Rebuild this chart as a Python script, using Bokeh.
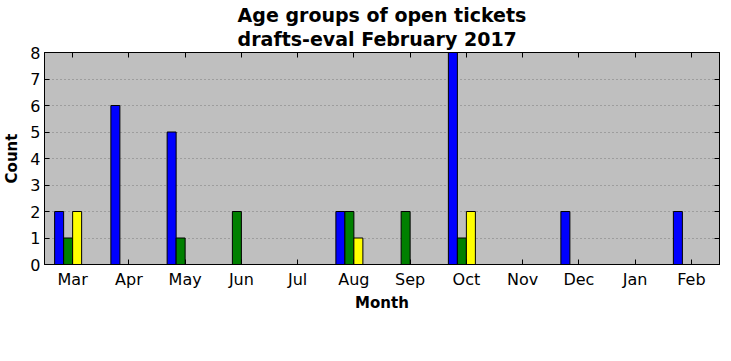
from bokeh.plotting import figure
from bokeh.models import (FactorRange, Range1d, LinearAxis, CategoricalAxis, Legend,
                          LegendItem, FixedTicker, ColumnDataSource, CustomJSTickFormatter)
from bokeh.transform import dodge
from bokeh.embed import file_html
from bokeh.resources import INLINE

months = ["Mar", "Apr", "May", "Jun", "Jul", "Aug", "Sep", "Oct", "Nov", "Dec", "Jan", "Feb"]
age_groups = ["0-7", "8-14", "15-30", "31+"]
counts_0_7 = [2, 6, 5, 0, 0, 2, 0, 8, 0, 2, 0, 2]
counts_8_14 = [1, 0, 1, 2, 0, 2, 2, 1, 0, 0, 0, 0]
counts_15_30 = [2, 0, 0, 0, 0, 1, 0, 2, 0, 0, 0, 0]
counts_31_plus = [0, 0, 0, 0, 0, 0, 0, 0, 0, 0, 0, 0]
y_ticks = [0, 1, 2, 3, 4, 5, 6, 7, 8]

colors = ["#0000ff", "#008000", "#ffff00", "#ff0000"]
offsets = [-0.24, -0.08, 0.08, 0.24]
bar_width = 0.16
FONT = "DejaVu Sans"

source = ColumnDataSource(data=dict(month=months, g0=counts_0_7, g1=counts_8_14,
                                    g2=counts_15_30, g3=counts_31_plus))

p = figure(x_range=FactorRange(*months, range_padding=0), y_range=Range1d(0, 8),
           frame_width=675, frame_height=212, output_backend="svg", toolbar_location=None,
           min_border_left=38, min_border_right=2, min_border_top=0, min_border_bottom=0)

p.title.text = "Age groups of open tickets\ndrafts-eval February 2017"
p.title.text_font = FONT
p.title.text_font_size = "19px"
p.title.text_font_style = "bold"
p.title.text_color = "black"
p.title.align = "center"
p.title.text_line_height = 1.1
p.title.standoff = 4

p.background_fill_color = "#bfbfbf"
p.border_fill_color = "white"
p.outline_line_color = "black"
p.outline_line_width = 1

renderers = []
for i, key in enumerate(["g0", "g1", "g2", "g3"]):
    r = p.vbar(x=dodge("month", offsets[i], range=p.x_range), top=key, width=bar_width,
               source=source, fill_color=colors[i], line_color="black", line_width=1)
    renderers.append(r)

p.xgrid.visible = False
p.ygrid.ticker = FixedTicker(ticks=y_ticks)
p.ygrid.grid_line_color = "#7a7a7a"
p.ygrid.grid_line_dash = "1 3"
p.ygrid.grid_line_width = 1

for ax in p.xaxis + p.yaxis:
    ax.major_tick_in = 5
    ax.major_tick_out = 0
    ax.minor_tick_line_color = None
    ax.axis_line_color = "black"
    ax.major_tick_line_color = "black"
    ax.major_label_text_font = FONT
    ax.major_label_text_font_size = "16px"
    ax.major_label_text_color = "black"
    ax.axis_label_text_font = FONT
    ax.axis_label_text_font_size = "15px"
    ax.axis_label_text_font_style = "bold"
    ax.axis_label_text_color = "black"

p.yaxis.ticker = FixedTicker(ticks=y_ticks)
p.yaxis.axis_label = "Count"
p.yaxis.major_label_standoff = 4
p.yaxis.axis_label_standoff = 6
p.xaxis.axis_label = "Month"
p.xaxis.major_label_standoff = 5
p.xaxis.axis_label_standoff = 2

top_axis = CategoricalAxis(major_tick_in=5, major_tick_out=0, major_label_standoff=0,
                           axis_line_color="black",
                           formatter=CustomJSTickFormatter(code="return ''"),
                           major_label_text_font_size="1px")
p.add_layout(top_axis, "above")
right_axis = LinearAxis(ticker=FixedTicker(ticks=y_ticks), major_tick_in=5, major_tick_out=0,
                        minor_tick_line_color=None, major_label_standoff=0,
                        axis_line_color="black",
                        major_label_overrides={t: "" for t in y_ticks})
p.add_layout(right_axis, "right")

legend = Legend(items=[LegendItem(label=age_groups[i], renderers=[renderers[i]]) for i in range(4)],
                orientation="horizontal", location="top_center",
                glyph_width=29, glyph_height=10, label_standoff=11, spacing=26,
                padding=5, margin=15, label_height=15,
                label_text_font=FONT, label_text_font_size="13px", label_text_color="black",
                border_line_color="black", border_line_width=1,
                background_fill_color="white", background_fill_alpha=1)
p.add_layout(legend, "below")

open("out.html", "w").write(file_html(p, INLINE))
